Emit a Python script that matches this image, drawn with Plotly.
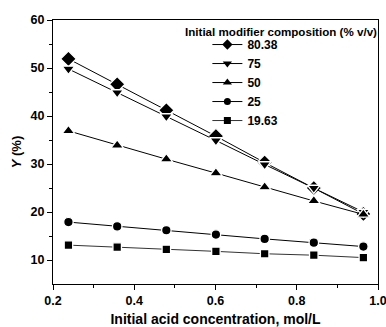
import plotly.graph_objects as go

x_acid = [0.238, 0.358, 0.479, 0.601, 0.721, 0.842, 0.964]
names = ["80.38", "75", "50", "25", "19.63"]
y_8038 = [51.9, 46.6, 41.2, 35.8, 30.3, 25.0, 19.6]
y_75 = [49.8, 44.9, 39.9, 34.9, 29.9, 25.0, 20.0]
y_50 = [36.9, 33.9, 31.0, 28.1, 25.2, 22.3, 19.5]
y_25 = [17.9, 17.0, 16.2, 15.3, 14.4, 13.6, 12.8]
y_1963 = [13.1, 12.7, 12.2, 11.8, 11.3, 11.0, 10.5]
series = [y_8038, y_75, y_50, y_25, y_1963]
symbols = ["diamond", "triangle-down", "triangle-up", "circle", "square"]
sizes = [12, 11, 11, 9.5, 8.5]
legend_sizes = [8, 8, 8, 7, 7]
line_colors = ["#000000", "#000000", "#000000", "#000000", "#333333"]

font_fam = "Liberation Sans, Arial, sans-serif"

fig = go.Figure()
for nm, ys, sym, sz, lc in zip(names, series, symbols, sizes, line_colors):
    fig.add_trace(go.Scatter(
        x=x_acid, y=ys, name=nm, mode="lines+markers", showlegend=False,
        line=dict(color=lc, width=1),
        marker=dict(symbol=sym, size=sz, color="#000000",
                    line=dict(color="#ffffff", width=1.3)),
    ))
# legend samples (no data points)
for nm, sym, sz, lc in zip(names, symbols, legend_sizes, line_colors):
    fig.add_trace(go.Scatter(
        x=[None], y=[None], name=nm, mode="lines+markers",
        line=dict(color=lc, width=1),
        marker=dict(symbol=sym, size=sz, color="#000000"),
    ))

fig.update_layout(
    width=386, height=327,
    margin=dict(l=53, r=8, t=20, b=43),
    paper_bgcolor="white", plot_bgcolor="white",
    font=dict(family=font_fam, size=12, color="black"),
    showlegend=True,
    legend=dict(x=0.475, y=0.962, xanchor="left", yanchor="top",
                bgcolor="rgba(0,0,0,0)", borderwidth=0,
                font=dict(family=font_fam, size=12, color="black", weight="bold"),
                tracegroupgap=0, itemsizing="trace", itemwidth=30,
                traceorder="normal"),
    xaxis=dict(range=[0.2, 1.0], dtick=0.2, tick0=0.2, tickformat=".1f",
               ticks="outside", ticklen=5, tickwidth=1, tickcolor="black",
               minor=dict(ticks="outside", ticklen=3, dtick=0.1, tickcolor="black"),
               showline=True, linecolor="black", linewidth=1, mirror=True,
               showgrid=False, zeroline=False, automargin=False,
               ticklabeloverflow="allow",
               tickfont=dict(family=font_fam, size=12.5, weight="bold"),
               title=dict(text="Initial acid concentration, mol/L",
                          font=dict(family=font_fam, size=14, weight="bold"),
                          standoff=13)),
    yaxis=dict(range=[5, 60], tickvals=[10, 20, 30, 40, 50, 60],
               ticks="outside", ticklen=5, tickwidth=1, tickcolor="black",
               minor=dict(ticks="outside", ticklen=3, tickvals=[15, 25, 35, 45, 55], tickcolor="black"),
               showline=True, linecolor="black", linewidth=1, mirror=True,
               showgrid=False, zeroline=False, automargin=False,
               ticklabeloverflow="allow",
               tickfont=dict(family=font_fam, size=12.5, weight="bold"),
               title=dict(text="<i>Y</i> (%)",
                          font=dict(family=font_fam, size=13, weight="bold"),
                          standoff=6)),
    annotations=[dict(text="Initial modifier composition (% v/v)",
                      xref="paper", yref="paper", x=1.003, y=0.988,
                      xanchor="right", yanchor="top", showarrow=False,
                      font=dict(family=font_fam, size=11.6, weight="bold"))],
)
fig.write_html("out.html")
